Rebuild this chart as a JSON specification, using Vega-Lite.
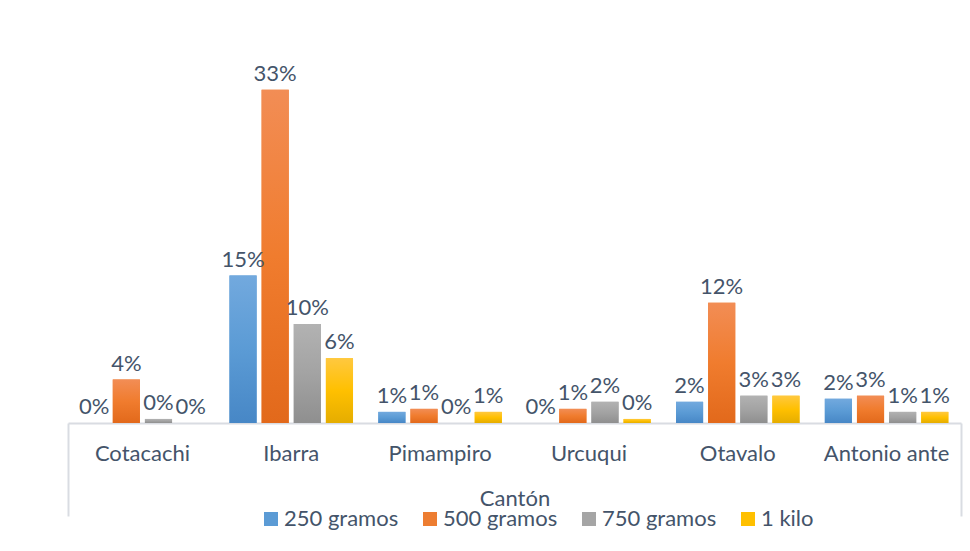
{
  "$schema": "https://vega.github.io/schema/vega-lite/v6.json",
  "width": 893,
  "height": 404,
  "autosize": {"type": "none"},
  "padding": {"left": 68, "top": 19, "right": 9, "bottom": 128},
  "background": "white",
  "config": {
    "view": {"stroke": null},
    "font": "Lato",
    "text": {"font": "Lato"}
  },
  "data": {
    "values": [
      {"canton": "Cotacachi", "serie": "250 gramos", "valor": 0},
      {"canton": "Cotacachi", "serie": "500 gramos", "valor": 0.043},
      {"canton": "Cotacachi", "serie": "750 gramos", "valor": 0.004},
      {"canton": "Cotacachi", "serie": "1 kilo", "valor": 0},
      {"canton": "Ibarra", "serie": "250 gramos", "valor": 0.146},
      {"canton": "Ibarra", "serie": "500 gramos", "valor": 0.33},
      {"canton": "Ibarra", "serie": "750 gramos", "valor": 0.098},
      {"canton": "Ibarra", "serie": "1 kilo", "valor": 0.064},
      {"canton": "Pimampiro", "serie": "250 gramos", "valor": 0.011},
      {"canton": "Pimampiro", "serie": "500 gramos", "valor": 0.014},
      {"canton": "Pimampiro", "serie": "750 gramos", "valor": 0},
      {"canton": "Pimampiro", "serie": "1 kilo", "valor": 0.011},
      {"canton": "Urcuqui", "serie": "250 gramos", "valor": 0},
      {"canton": "Urcuqui", "serie": "500 gramos", "valor": 0.014},
      {"canton": "Urcuqui", "serie": "750 gramos", "valor": 0.021},
      {"canton": "Urcuqui", "serie": "1 kilo", "valor": 0.004},
      {"canton": "Otavalo", "serie": "250 gramos", "valor": 0.021},
      {"canton": "Otavalo", "serie": "500 gramos", "valor": 0.119},
      {"canton": "Otavalo", "serie": "750 gramos", "valor": 0.027},
      {"canton": "Otavalo", "serie": "1 kilo", "valor": 0.027},
      {"canton": "Antonio ante", "serie": "250 gramos", "valor": 0.024},
      {"canton": "Antonio ante", "serie": "500 gramos", "valor": 0.027},
      {"canton": "Antonio ante", "serie": "750 gramos", "valor": 0.011},
      {"canton": "Antonio ante", "serie": "1 kilo", "valor": 0.011}
    ]
  },
  "encoding": {
    "xOffset": {
      "field": "serie",
      "type": "nominal",
      "sort": ["250 gramos", "500 gramos", "750 gramos", "1 kilo"],
      "scale": {"paddingInner": 0.156, "paddingOuter": 0}
    },
    "y": {
      "field": "valor",
      "type": "quantitative",
      "scale": {"domain": [0, 0.4], "nice": false},
      "axis": null
    }
  },
  "layer": [
    {
      "mark": {"type": "bar"},
      "encoding": {
        "x": {
          "field": "canton",
          "type": "nominal",
          "sort": ["Cotacachi", "Ibarra", "Pimampiro", "Urcuqui", "Otavalo", "Antonio ante"],
          "scale": {"paddingInner": 0.17, "paddingOuter": 0.085},
          "axis": {
            "orient": "bottom",
            "title": "Cantón",
            "titleFont": "Lato",
            "titleFontSize": 22,
            "titleFontWeight": "normal",
            "titleColor": "#44546A",
            "titlePadding": 24,
            "labelFont": "Lato",
            "labelFontSize": 22,
            "labelColor": "#44546A",
            "labelAngle": 0,
            "labelPadding": 20,
            "ticks": false,
            "domain": true,
            "domainColor": "#D9DCE2",
            "domainWidth": 2,
            "grid": false
          }
        },
        "color": {
          "field": "serie",
          "type": "nominal",
          "sort": ["250 gramos", "500 gramos", "750 gramos", "1 kilo"],
          "scale": {
            "domain": ["250 gramos", "500 gramos", "750 gramos", "1 kilo"],
            "range": ["#5B9BD5", "#ED7D31", "#A5A5A5", "#FFC000"]
          },
          "legend": {
            "orient": "none",
            "legendX": 192,
            "legendY": 489,
            "direction": "horizontal",
            "title": null,
            "symbolType": "square",
            "symbolSize": 196,
            "symbolStrokeWidth": 0,
            "labelFont": "Lato",
            "labelFontSize": 22,
            "labelColor": "#44546A",
            "labelOffset": 2,
            "columnPadding": 20,
            "padding": 0
          }
        }
      }
    },
    {
      "transform": [{"filter": "datum.serie === '250 gramos'"}],
      "mark": {"type": "bar", "color": {"gradient": "linear", "x1": 0, "y1": 0, "x2": 0, "y2": 1, "stops": [{"offset": 0, "color": "#72A9DE"}, {"offset": 0.5, "color": "#5B9BD5"}, {"offset": 1, "color": "#4787C6"}]}},
      "encoding": {
        "x": {
          "field": "canton",
          "type": "nominal",
          "sort": ["Cotacachi", "Ibarra", "Pimampiro", "Urcuqui", "Otavalo", "Antonio ante"],
          "scale": {"paddingInner": 0.17, "paddingOuter": 0.085},
          "axis": {
            "orient": "bottom",
            "title": null,
            "values": ["Cotacachi"],
            "bandPosition": 0,
            "tickOffset": -12.6,
            "labels": false,
            "domain": false,
            "ticks": true,
            "tickSize": 93,
            "tickWidth": 2,
            "tickColor": "#D9DCE2",
            "grid": false
          }
        }
      }
    },
    {
      "transform": [{"filter": "datum.serie === '500 gramos'"}],
      "mark": {"type": "bar", "color": {"gradient": "linear", "x1": 0, "y1": 0, "x2": 0, "y2": 1, "stops": [{"offset": 0, "color": "#F28D55"}, {"offset": 0.5, "color": "#F07C2E"}, {"offset": 1, "color": "#E2691B"}]}},
      "encoding": {
        "x": {
          "field": "canton",
          "type": "nominal",
          "sort": ["Cotacachi", "Ibarra", "Pimampiro", "Urcuqui", "Otavalo", "Antonio ante"],
          "scale": {"paddingInner": 0.17, "paddingOuter": 0.085},
          "axis": {
            "orient": "bottom",
            "title": null,
            "values": ["Antonio ante"],
            "bandPosition": 1,
            "tickOffset": 12.6,
            "labels": false,
            "domain": false,
            "ticks": true,
            "tickSize": 93,
            "tickWidth": 2,
            "tickColor": "#D9DCE2",
            "grid": false
          }
        }
      }
    },
    {
      "transform": [{"filter": "datum.serie === '750 gramos'"}],
      "mark": {"type": "bar", "color": {"gradient": "linear", "x1": 0, "y1": 0, "x2": 0, "y2": 1, "stops": [{"offset": 0, "color": "#B2B2B2"}, {"offset": 0.5, "color": "#A3A3A3"}, {"offset": 1, "color": "#8F8F8F"}]}},
      "encoding": {
        "x": {
          "field": "canton",
          "type": "nominal",
          "sort": ["Cotacachi", "Ibarra", "Pimampiro", "Urcuqui", "Otavalo", "Antonio ante"],
          "scale": {"paddingInner": 0.17, "paddingOuter": 0.085},
          "axis": null
        }
      }
    },
    {
      "transform": [{"filter": "datum.serie === '1 kilo'"}],
      "mark": {"type": "bar", "color": {"gradient": "linear", "x1": 0, "y1": 0, "x2": 0, "y2": 1, "stops": [{"offset": 0, "color": "#FFC83F"}, {"offset": 0.5, "color": "#FFC000"}, {"offset": 1, "color": "#E5AD00"}]}},
      "encoding": {
        "x": {
          "field": "canton",
          "type": "nominal",
          "sort": ["Cotacachi", "Ibarra", "Pimampiro", "Urcuqui", "Otavalo", "Antonio ante"],
          "scale": {"paddingInner": 0.17, "paddingOuter": 0.085},
          "axis": null
        }
      }
    },
    {
      "mark": {"type": "text", "baseline": "bottom", "dy": -4, "fontSize": 22, "color": "#44546A", "font": "Lato"},
      "encoding": {
        "x": {
          "field": "canton",
          "type": "nominal",
          "sort": ["Cotacachi", "Ibarra", "Pimampiro", "Urcuqui", "Otavalo", "Antonio ante"],
          "scale": {"paddingInner": 0.17, "paddingOuter": 0.085},
          "axis": null
        },
        "text": {"field": "valor", "type": "quantitative", "format": ".0%"}
      }
    }
  ],
  "resolve": {"axis": {"x": "independent"}}
}
